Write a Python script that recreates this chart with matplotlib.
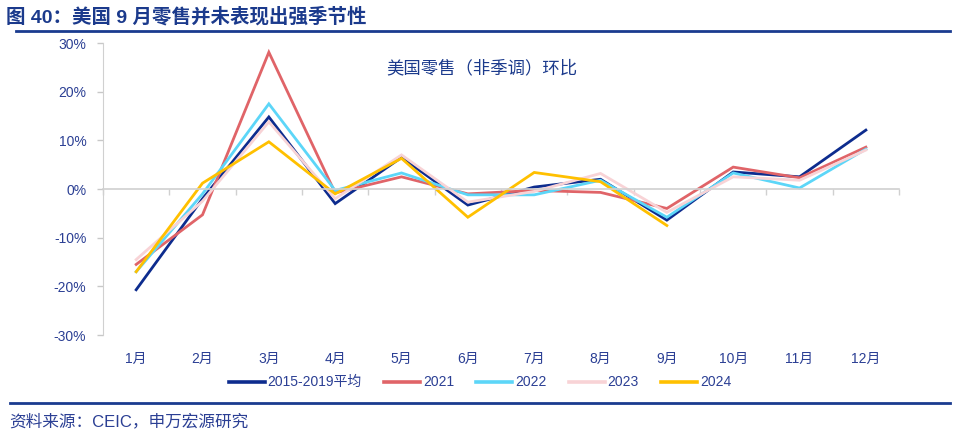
import numpy as np
import matplotlib.pyplot as plt
from matplotlib.lines import Line2D

plt.rcParams['font.family'] = ['Liberation Sans', 'Noto Sans CJK SC', 'DejaVu Sans']

# 数据：美国零售（非季调）环比，%
months = ['1月', '2月', '3月', '4月', '5月', '6月', '7月', '8月', '9月', '10月', '11月', '12月']
avg_2015_2019 = [-20.7, -2.0, 14.8, -3.0, 6.5, -3.3, 0.4, 2.0, -6.4, 3.5, 2.5, 12.1]
y2021 = [-15.5, -5.3, 28.1, -0.8, 2.5, -1.0, -0.3, -0.7, -4.0, 4.5, 2.3, 8.6]
y2022 = [-17.0, -1.0, 17.5, -0.3, 3.3, -1.2, -1.2, 1.8, -5.8, 3.3, 0.2, 8.2]
y2023 = [-14.5, -2.5, 13.8, -2.0, 7.0, -2.7, -0.5, 3.2, -4.8, 2.5, 1.8, 8.0]
y2024 = [-17.0, 1.2, 9.7, -1.0, 6.3, -5.8, 3.4, 1.5, -7.5]

series = [
    ('2015-2019平均', avg_2015_2019, '#0D2C8E'),
    ('2021', y2021, '#E06468'),
    ('2022', y2022, '#5CD6F8'),
    ('2023', y2023, '#F8D3D6'),
    ('2024', y2024, '#FFC000'),
]

navy = '#1B3A8C'
text_c = '#2B3F94'

fig = plt.figure(figsize=(9.6, 4.37), dpi=100)
ax = fig.add_axes([0.1073, 0.2334, 0.8292, 0.6682])

x = np.arange(1, 13)
for name, vals, col in series:
    ax.plot(x[:len(vals)], vals, color=col, lw=2.0, label=name, solid_joinstyle='miter')

ax.set_xlim(0.5, 12.5)
ax.set_ylim(-30, 30)
ax.set_yticks(np.arange(-30, 31, 10))
ax.set_yticklabels([f'{v}%' for v in range(-30, 31, 10)])
ax.tick_params(axis='y', colors='#C8C8C8', labelcolor=text_c, labelsize=10, length=4, width=1, pad=8)

# x axis sits at zero, labels at the bottom
for s in ['top', 'right']:
    ax.spines[s].set_visible(False)
ax.spines['left'].set_color('#D0D0D0')
ax.spines['bottom'].set_position(('data', 0))
ax.spines['bottom'].set_color('#D0D0D0')
ax.spines['bottom'].set_linewidth(1.2)
ax.set_xticks(np.arange(0.5, 12.6, 1))
ax.set_xticklabels([])
ax.tick_params(axis='x', colors='#D0D0D0', length=4, width=1)

sec = ax.secondary_xaxis('bottom')
sec.set_xticks(x)
sec.set_xticklabels(months)
sec.spines['bottom'].set_visible(False)
sec.tick_params(length=0, labelcolor=text_c, labelsize=10, pad=12)

ax.text(0.476, 0.915, '美国零售（非季调）环比', transform=ax.transAxes,
        ha='center', va='center', fontsize=12.5, color=navy)

handles = [Line2D([], [], color=c, lw=2.6) for _, _, c in series]
fig.legend(handles, [n for n, _, _ in series], loc='center', bbox_to_anchor=(0.5, 0.125),
           ncol=5, frameon=False, fontsize=10, handlelength=2.6, handletextpad=0.2,
           columnspacing=1.6, labelcolor=text_c)

fig.text(0.006, 0.962, '图 40：美国 9 月零售并未表现出强季节性', fontsize=14,
         fontweight='bold', color=navy, ha='left', va='center')
fig.add_artist(Line2D([0.017, 0.99], [0.929, 0.929], color='#1A3B8F', lw=2))
fig.add_artist(Line2D([0.01, 0.99], [0.078, 0.078], color='#1A3B8F', lw=2))
fig.text(0.01, 0.035, '资料来源：CEIC，申万宏源研究', fontsize=12, color=text_c,
         ha='left', va='center')

fig.savefig('out.png', dpi=100)
